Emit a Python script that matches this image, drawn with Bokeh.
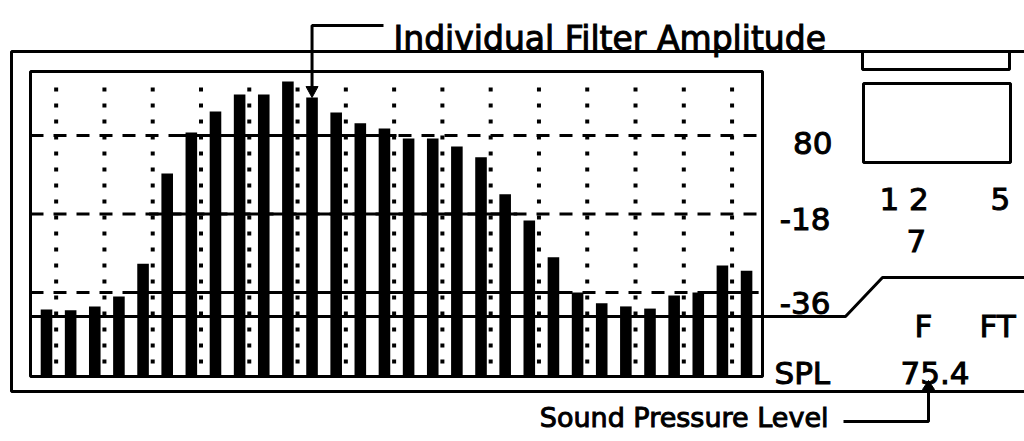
import numpy as np
from bokeh.plotting import figure
from bokeh.models import Range1d
from bokeh.core.properties import value
from bokeh.embed import file_html
from bokeh.resources import INLINE

# ---------------- data ----------------
band_index = list(range(30))
band_level_db = [-39.9, -40.1, -39.2, -36.9, -29.4, -8.7, 0.7, 5.5, 9.4, 9.4,
                 12.4, 8.7, 5.3, 2.8, 1.6, -0.7, -0.7, -2.5, -5.0, -13.5,
                 -19.5, -27.9, -36.0, -38.5, -39.2, -39.7, -36.7, -36.0, -29.8, -31.0]
grid_db = [0, -18, -36]
grid_labels = ["80", "-18", "-36"]
floor_db = -55
dotted_x = [0.4 + 2 * k for k in range(15)]
spl_label = "SPL"
spl_value = "75.4"
title_text = "Individual Filter Amplitude"
spl_caption = "Sound Pressure Level"
panel_digits = ["1 2", "5", "7"]
panel_modes = ["F", "FT"]
highlight_band = 11

FONT = "DejaVu Sans"
W, H = 1024, 441
OFF = 0  # page offset of the canvas

# data scale: bar i centre at screen x 46 + 24.14*i ; 0 dB at screen y 135, 4.36 px/dB
PX_PER_BAND = 24.14
PX_PER_DB = 4.36
X0_SCREEN = 46
Y0_SCREEN = 135
xr = Range1d((OFF - X0_SCREEN) / PX_PER_BAND, (OFF + W - X0_SCREEN) / PX_PER_BAND)
yr = Range1d(-(OFF + H - Y0_SCREEN) / PX_PER_DB, (Y0_SCREEN - OFF) / PX_PER_DB)

p = figure(width=W, height=H, x_range=xr, y_range=yr, output_backend="svg",
           toolbar_location=None, min_border=0)
p.axis.visible = False
p.grid.visible = False
p.outline_line_color = None
p.background_fill_color = "white"
p.border_fill_color = "white"
p.extra_x_ranges = {"px": Range1d(OFF, OFF + W)}
p.extra_y_ranges = {"px": Range1d(OFF + H, OFF)}
PX = dict(x_range_name="px", y_range_name="px")

x_left = (30 - X0_SCREEN) / PX_PER_BAND
x_right = (762 - X0_SCREEN) / PX_PER_BAND

# bars
p.vbar(x=band_index, top=band_level_db, bottom=floor_db, width=0.48,
       fill_color="black", line_color=None)

# dotted frequency grid
p.segment(x0=dotted_x, y0=[11.0] * len(dotted_x), x1=dotted_x, y1=[-52.5] * len(dotted_x),
          line_color="black", line_width=4, line_dash="4 12")

# dashed level grid
p.segment(x0=[x_left] * 3, y0=grid_db, x1=[x_right] * 3, y1=grid_db,
          line_color="black", line_width=3, line_dash="13 10")

# solid parts of level lines where bars exceed the level
vals = np.array(band_level_db)
sx0, sx1, sy = [], [], []
for g in grid_db:
    above = vals > g
    i = 0
    while i < len(vals):
        if above[i]:
            j = i
            while j + 1 < len(vals) and above[j + 1]:
                j += 1
            sx0.append(max(i - 0.75, x_left))
            sx1.append(min(j + 0.5, x_right))
            sy.append(g)
            i = j + 1
        else:
            i += 1
p.segment(x0=sx0, y0=sy, x1=sx1, y1=sy, line_color="black", line_width=3)

TXT = dict(text_font=value(FONT), text_color="black", text_baseline="alphabetic",
           text_font_style="normal", text_outline_color="black")

# level labels
p.text(x=[832, 830, 830], y=[142, 218, 302], text=grid_labels, text_align="right",
       text_font_size="31px", **TXT, **PX)

# inner chart frame
p.quad(left=[30], right=[762], top=[71], bottom=[376], fill_color=None,
       line_color="black", line_width=3, **PX)

# outer frame
p.line(x=[OFF + W, 11, 11, OFF + W], y=[51, 51, 391, 391], line_color="black",
       line_width=3, **PX)

# SPL panel divider
p.line(x=[30, 845, 882, OFF + W], y=[316, 316, 277, 277], line_color="black",
       line_width=3, **PX)

# right-hand boxes
p.quad(left=[862, 863], right=[1009, 1010], top=[51, 83], bottom=[69, 162],
       fill_color=None, line_color="black", line_width=3, **PX)

# right panel texts
p.text(x=[879, 990, 906], y=[198, 198, 240], text=panel_digits, text_align="left",
       text_font_size="31px", **TXT, **PX)
p.text(x=[914, 979], y=[325, 325], text=panel_modes, text_align="left",
       text_font_size="31px", **TXT, **PX)
p.text(x=[774, 900], y=[372, 372], text=[spl_label, spl_value], text_align="left",
       text_font_size="31px", **TXT, **PX)

# title with leader arrow to highlighted band
hx = X0_SCREEN + highlight_band * PX_PER_BAND
htop = Y0_SCREEN - band_level_db[highlight_band] * PX_PER_DB
p.text(x=[393], y=[38], text=[title_text], text_align="left",
       text_font_size="33px", **TXT, **PX)
p.line(x=[383, hx, hx], y=[25, 25, htop - 10], line_color="black", line_width=3, **PX)
p.patch(x=[hx - 6, hx + 6, hx], y=[htop - 11, htop - 11, htop], fill_color="black",
        line_color="black", line_width=1, **PX)

# SPL caption with leader arrow up to the value
p.text(x=[828], y=[417], text=[spl_caption], text_align="right",
       text_font_size="27px", text_font=value(FONT), text_color="black",
       text_baseline="middle", text_outline_color="black", **PX)
p.line(x=[843, 928, 928], y=[421, 421, 388], line_color="black", line_width=3, **PX)
p.patch(x=[922, 934, 928], y=[389, 389, 380], fill_color="black", line_color="black",
        line_width=1, **PX)

open("out.html", "w").write(file_html(p, INLINE))
